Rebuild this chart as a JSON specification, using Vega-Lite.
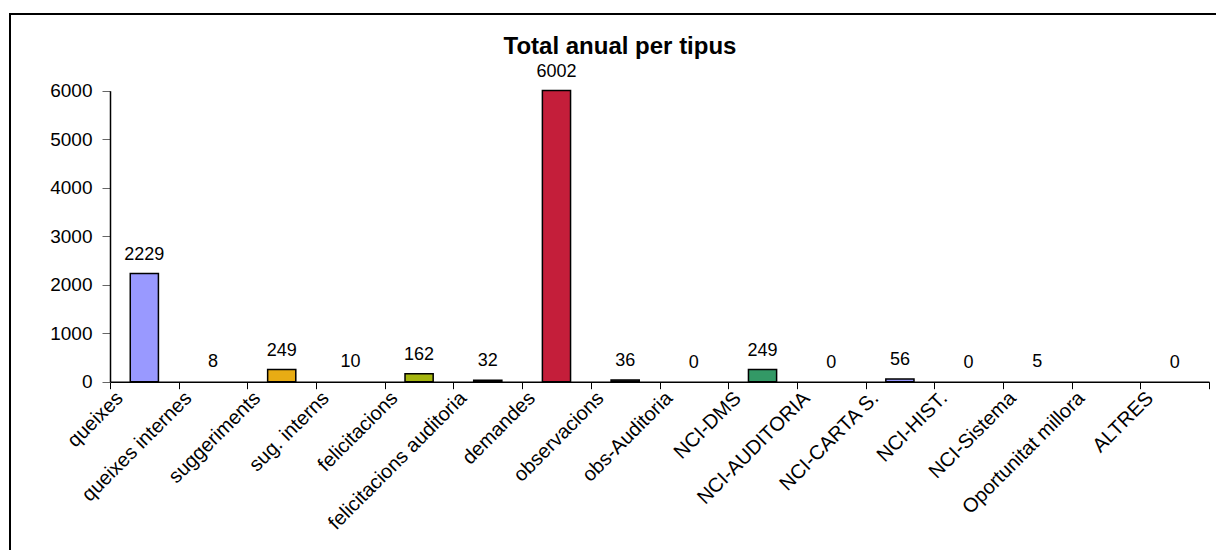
{
  "$schema": "https://vega.github.io/schema/vega-lite/v6.json",
  "autosize": "none",
  "width": 1210,
  "height": 540,
  "padding": {"left": 10, "top": 14, "right": -4, "bottom": -4},
  "background": "white",
  "view": {"stroke": "black", "strokeWidth": 2},
  "title": {
    "text": "Total anual per tipus",
    "font": "Liberation Sans",
    "fontSize": 24,
    "fontWeight": "bold",
    "color": "black",
    "anchor": "middle",
    "offset": -45,
    "dx": 5
  },
  "data": {
    "values": [
      {"tipus": "queixes", "n": 2229},
      {"tipus": "queixes internes", "n": 8},
      {"tipus": "suggeriments", "n": 249},
      {"tipus": "sug. interns", "n": 10},
      {"tipus": "felicitacions", "n": 162},
      {"tipus": "felicitacions auditoria", "n": 32},
      {"tipus": "demandes", "n": 6002},
      {"tipus": "observacions", "n": 36},
      {"tipus": "obs-Auditoria", "n": 0},
      {"tipus": "NCI-DMS", "n": 249},
      {"tipus": "NCI-AUDITORIA", "n": 0},
      {"tipus": "NCI-CARTA S.", "n": 56},
      {"tipus": "NCI-HIST.", "n": 0},
      {"tipus": "NCI-Sistema", "n": 5},
      {"tipus": "Oportunitat millora", "n": null},
      {"tipus": "ALTRES", "n": 0}
    ]
  },
  "encoding": {
    "x": {
      "field": "tipus",
      "type": "nominal",
      "sort": null,
      "scale": {
        "domain": ["queixes", "queixes internes", "suggeriments", "sug. interns", "felicitacions", "felicitacions auditoria", "demandes", "observacions", "obs-Auditoria", "NCI-DMS", "NCI-AUDITORIA", "NCI-CARTA S.", "NCI-HIST.", "NCI-Sistema", "Oportunitat millora", "ALTRES"],
        "range": [100, 1199],
        "paddingInner": 0,
        "paddingOuter": 0
      },
      "axis": {
        "title": null,
        "offset": -172.3,
        "tickBand": "extent",
        "tickSize": 7,
        "tickColor": "black",
        "domainColor": "black",
        "domainWidth": 1.5,
        "labelAngle": -45,
        "labelAlign": "right",
        "labelBaseline": "middle",
        "labelFont": "Liberation Sans",
        "labelFontSize": 20,
        "labelColor": "black",
        "labelOffset": -25,
        "labelPadding": 6,
        "labelOverlap": false,
        "labelLimit": 300
      }
    }
  },
  "layer": [
    {
      "transform": [{"filter": "datum.n > 0"}],
      "mark": {"type": "bar", "width": {"band": 0.41}, "stroke": "black", "strokeWidth": 1.5},
      "encoding": {
        "y": {
          "field": "n",
          "type": "quantitative",
          "scale": {"domain": [0, 6000], "range": [367.7, 76.7], "nice": false, "zero": true},
          "axis": {
            "title": null,
            "orient": "left",
            "offset": -100,
            "values": [0, 1000, 2000, 3000, 4000, 5000, 6000],
            "format": "d",
            "grid": false,
            "tickSize": 8,
            "tickColor": "#666666",
            "domainColor": "black",
            "domainWidth": 1.5,
            "labelFont": "Liberation Sans",
            "labelFontSize": 19,
            "labelColor": "black",
            "labelPadding": 10
          }
        },
        "y2": {"datum": 0},
        "opacity": {"condition": {"test": "datum.n < 20", "value": 0}, "value": 1},
        "color": {
          "field": "tipus",
          "type": "nominal",
          "sort": null,
          "legend": null,
          "scale": {
            "domain": ["queixes", "queixes internes", "suggeriments", "sug. interns", "felicitacions", "felicitacions auditoria", "demandes", "observacions", "obs-Auditoria", "NCI-DMS", "NCI-AUDITORIA", "NCI-CARTA S.", "NCI-HIST.", "NCI-Sistema", "Oportunitat millora", "ALTRES"],
            "range": ["#9999FF", "#993366", "#E8AC14", "#FFFFCC", "#A5B50F", "#333399", "#C41E3A", "#333333", "#0066CC", "#339966", "#CCCCFF", "#9999FF", "#FF8080", "#00CCFF", "#CC99FF", "#FFCC99"]
          }
        }
      }
    },
    {
      "transform": [{"filter": "isValid(datum.n)"}],
      "mark": {"type": "text", "dy": -14, "font": "Liberation Sans", "fontSize": 18, "color": "black", "baseline": "alphabetic"},
      "encoding": {
        "y": {"field": "n", "type": "quantitative"},
        "text": {"field": "n", "type": "quantitative"}
      }
    }
  ]
}
